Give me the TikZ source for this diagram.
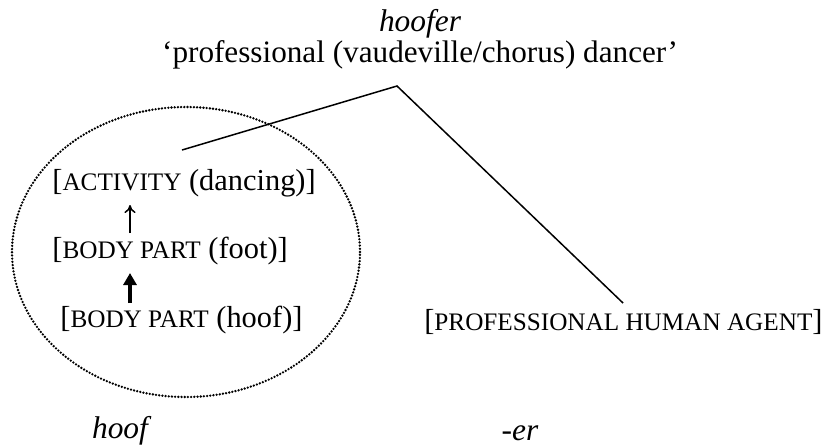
\documentclass[tikz,border=0pt]{standalone}
\usepackage{fontspec}
\setmainfont{Liberation Serif}
\usetikzlibrary{arrows.meta,shapes.geometric}
% small capitals drawn as reduced capitals
\newcommand\smcap[1]{{\fontsize{12.6}{14}\selectfont #1}}
\begin{document}
\begin{tikzpicture}[x=0.5pt,y=-0.5pt,
  concept/.style={inner sep=0pt,anchor=base,font=\fontsize{15.2}{17}\selectfont},
  gloss/.style={inner sep=0pt,anchor=base,font=\fontsize{15.6}{18}\selectfont},
  word/.style={inner sep=0pt,anchor=base,font=\itshape\fontsize{15.7}{18}\selectfont},
  link/.style={line width=0.75pt}]
\useasboundingbox (0,0) rectangle (829,447);
% headword and its gloss
\node[word] (hoofer) at (420,31) {hoofer};
\node[gloss] (gloss) at (420,62) {‘professional (vaudeville/chorus) dancer’};
% the two constituents
\node[concept,anchor=base west] (act) at (52,190) {[\smcap{ACTIVITY} (dancing)]};
\node[concept,anchor=base west] (foot) at (52,258) {[\smcap{BODY PART} (foot)]};
\node[concept,anchor=base west] (hoof) at (60,327) {[\smcap{BODY PART} (hoof)]};
\node[concept,anchor=base east] (agent) at (823,330) {[\smcap{PROFESSIONAL HUMAN AGENT}]};
% metonymic chain inside the blend
\coordinate (f1) at (130,233);
\coordinate (f2) at (130,205);
\coordinate (h1) at (130,303);
\coordinate (h2) at (130,273);
\draw[link,-{To[length=4pt,width=5.5pt]}] (f1) -- (f2);
\draw[line width=1.6pt,-{Triangle[length=6pt,width=6.5pt]}] (h1) -- (h2);
\node[draw,line width=1.3pt,line cap=round,dash pattern=on 0pt off 1.6pt,ellipse,
      minimum width=174pt,minimum height=145pt,inner sep=0pt] (blend) at (186,252) {};
% composition lines
\coordinate (apex) at (397,86);
\coordinate (la) at (182,150);
\coordinate (ra) at (623,303);
\draw[link] (la) -- (apex) -- (ra);
% morpheme labels
\node[word] (hoofw) at (120,438) {hoof};
\node[word] (er) at (520,440) {-er};
\end{tikzpicture}
\end{document}
